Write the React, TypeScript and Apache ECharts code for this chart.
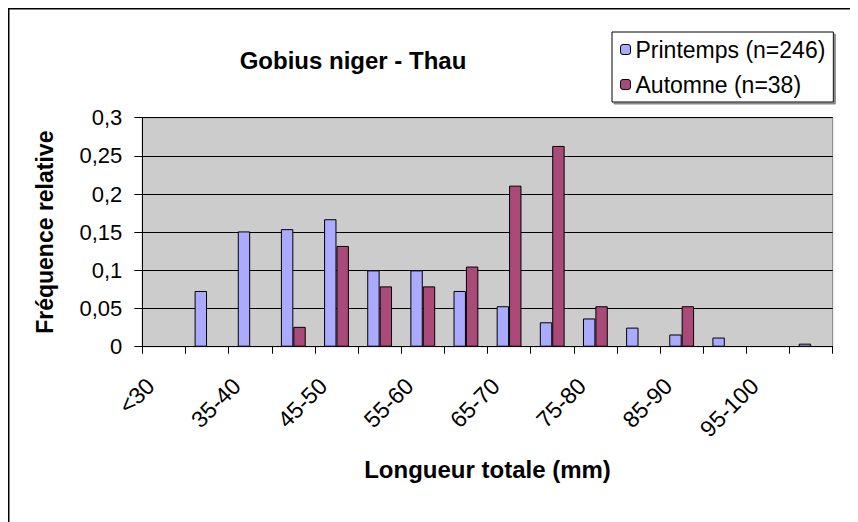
import React, { useEffect, useRef } from "react";
import * as echarts from "echarts";

const categories = ["<30", "30-35", "35-40", "40-45", "45-50", "50-55", "55-60", "60-65", "65-70", "70-75", "75-80", "80-85", "85-90", "90-95", "95-100", ">100"];
const printemps = [null, 0.073, 0.151, 0.154, 0.167, 0.1, 0.1, 0.073, 0.053, 0.032, 0.037, 0.025, 0.016, 0.012, null, 0.004];
const automne = [null, null, null, 0.026, 0.132, 0.079, 0.079, 0.105, 0.211, 0.263, 0.053, null, 0.053, null, null, null];
const seriesNames = ["Printemps (n=246)", "Automne (n=38)"];
const titleText = "Gobius niger - Thau";
const xTitle = "Longueur totale (mm)";
const yTitle = "Fréquence relative";

const FONT = "'Liberation Sans', Arial, sans-serif";

export default function App() {
  const ref = useRef<HTMLDivElement>(null);
  useEffect(() => {
    if (!ref.current) return;
    const chart = echarts.init(ref.current, null, { renderer: "svg" });
    chart.setOption({
      animation: false,
      backgroundColor: "#ffffff",
      textStyle: { fontFamily: FONT },
      title: {
        text: titleText,
        left: 340,
        top: 35,
        textAlign: "center",
        textStyle: { fontFamily: FONT, fontSize: 24, fontWeight: "bold", color: "#000" },
      },
      legend: {
        orient: "vertical",
        left: 604,
        top: 24,
        padding: [6, 8, 6, 8],
        itemGap: 12,
        itemWidth: 10,
        itemHeight: 10,
        backgroundColor: "#ffffff",
        borderColor: "#000",
        borderWidth: 1,
        shadowColor: "#888",
        shadowOffsetX: 2,
        shadowOffsetY: 2,
        shadowBlur: 0,
        textStyle: { fontFamily: FONT, fontSize: 23, color: "#000" },
        itemStyle: { borderColor: "#000", borderWidth: 1 },
        data: seriesNames,
      },
      graphic: [
        {
          type: "rect",
          shape: { x: 0.75, y: 0.75, width: 2000, height: 2000 },
          style: { fill: "none", stroke: "#000", lineWidth: 1.5 },
          silent: true,
        },
      ],
      grid: {
        left: 134.3,
        top: 109.7,
        width: 690.4,
        height: 229,
        show: true,
        backgroundColor: "#cccccc",
        borderColor: "#808080",
        borderWidth: 1,
      },
      xAxis: {
        type: "category",
        data: categories,
        boundaryGap: true,
        name: xTitle,
        nameLocation: "middle",
        nameGap: 111,
        nameTextStyle: { fontFamily: FONT, fontSize: 24, fontWeight: "bold", color: "#000" },
        axisLine: { show: true, lineStyle: { color: "#000", width: 1 } },
        axisTick: { show: true, alignWithLabel: false, interval: 0, length: 7, lineStyle: { color: "#000" } },
        axisLabel: {
          interval: 1,
          rotate: 45,
          margin: 22,
          padding: [0, 19, 0, 0],
          fontFamily: FONT,
          fontSize: 23,
          color: "#000",
        },
        splitLine: { show: false },
      },
      yAxis: {
        type: "value",
        min: 0,
        max: 0.3,
        interval: 0.05,
        name: yTitle,
        nameLocation: "middle",
        nameGap: 86,
        nameTextStyle: { fontFamily: FONT, fontSize: 23, fontWeight: "bold", color: "#000" },
        axisLine: { show: true, lineStyle: { color: "#000", width: 1 } },
        axisTick: { show: true, length: 8, lineStyle: { color: "#000" } },
        axisLabel: {
          margin: 20,
          fontFamily: FONT,
          fontSize: 22,
          color: "#000",
          formatter: (v: number) => String(Number(v.toFixed(2))).replace(".", ","),
        },
        splitLine: { show: true, lineStyle: { color: "#000", width: 1 } },
      },
      series: [
        {
          name: seriesNames[0],
          type: "bar",
          data: printemps,
          barGap: "0%",
          barCategoryGap: "42.5%",
          itemStyle: { color: "#aaaaff", borderColor: "#000", borderWidth: 1 },
        },
        {
          name: seriesNames[1],
          type: "bar",
          data: automne,
          barGap: "0%",
          barCategoryGap: "42.5%",
          itemStyle: { color: "#a94a79", borderColor: "#000", borderWidth: 1 },
        },
      ],
    });
    return () => chart.dispose();
  }, []);
  return <div ref={ref} style={{ width: 850, height: 514 }} />;
}
